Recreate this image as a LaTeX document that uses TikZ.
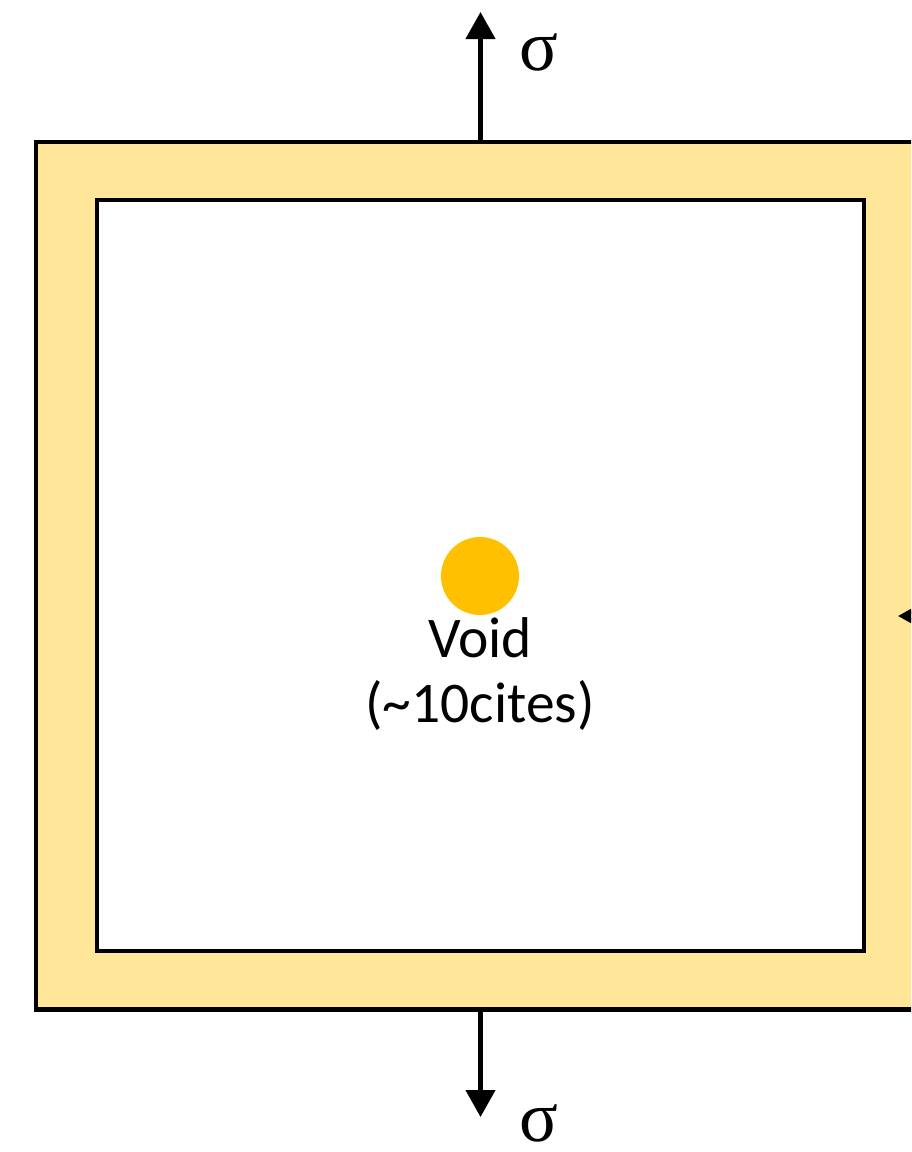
\documentclass[tikz,border=0pt]{standalone}
\usepackage{fontspec}
\setmainfont{Carlito}
\newfontfamily\sigmafont{Liberation Serif}
\usetikzlibrary{arrows.meta}

\definecolor{frameFill}{HTML}{FFE699}
\definecolor{voidGold}{HTML}{FFC000}

\tikzset{
  plate/.style={draw=black, line width=4.5pt, rectangle, inner sep=0pt, outer sep=0pt},
  stress/.style={draw=black, line width=4.5pt, -{Triangle[length=27pt,width=29pt]}},
  stresslabel/.style={font=\sigmafont\fontsize{72}{72}\selectfont, inner sep=0pt, anchor=base},
  voidlabel/.style={font=\fontsize{57.5}{65}\selectfont, align=center, inner sep=0pt}
}

\begin{document}
\begin{tikzpicture}[x=1pt, y=-1pt]
  \clip (0,0) rectangle (911,1152);
  \fill[white] (0,0) rectangle (911,1152);

  % loaded specimen: outer plate and the open window inside it
  \node[plate, fill=frameFill, minimum width=889pt, minimum height=867.5pt] (outer) at (480.5,575.75) {};
  \node[plate, fill=white, minimum width=767pt, minimum height=751pt] (inner) at (480.5,575.5) {};

  % the void at the centre
  \node[circle, fill=voidGold, minimum size=78pt, inner sep=0pt] (void) at (480,576) {};
  \node[voidlabel, anchor=base] (voidtext) at (480,722) {Void\\(\textasciitilde10cites)};

  % applied stress
  \coordinate (topTip) at (outer.north |- 0,12);
  \coordinate (bottomTip) at (outer.south |- 0,1117);
  \coordinate (rightTail) at (990,616);
  \coordinate (rightTip) at (898,616);
  \draw[stress] (outer.north) -- (topTip);
  \draw[stress] (outer.south) -- (bottomTip);
  \draw[stress] (rightTail) -- (rightTip);

  \node[stresslabel] (sigmaTop) at (539,70) {σ};
  \node[stresslabel] (sigmaBottom) at (539,1141) {σ};
\end{tikzpicture}
\end{document}
